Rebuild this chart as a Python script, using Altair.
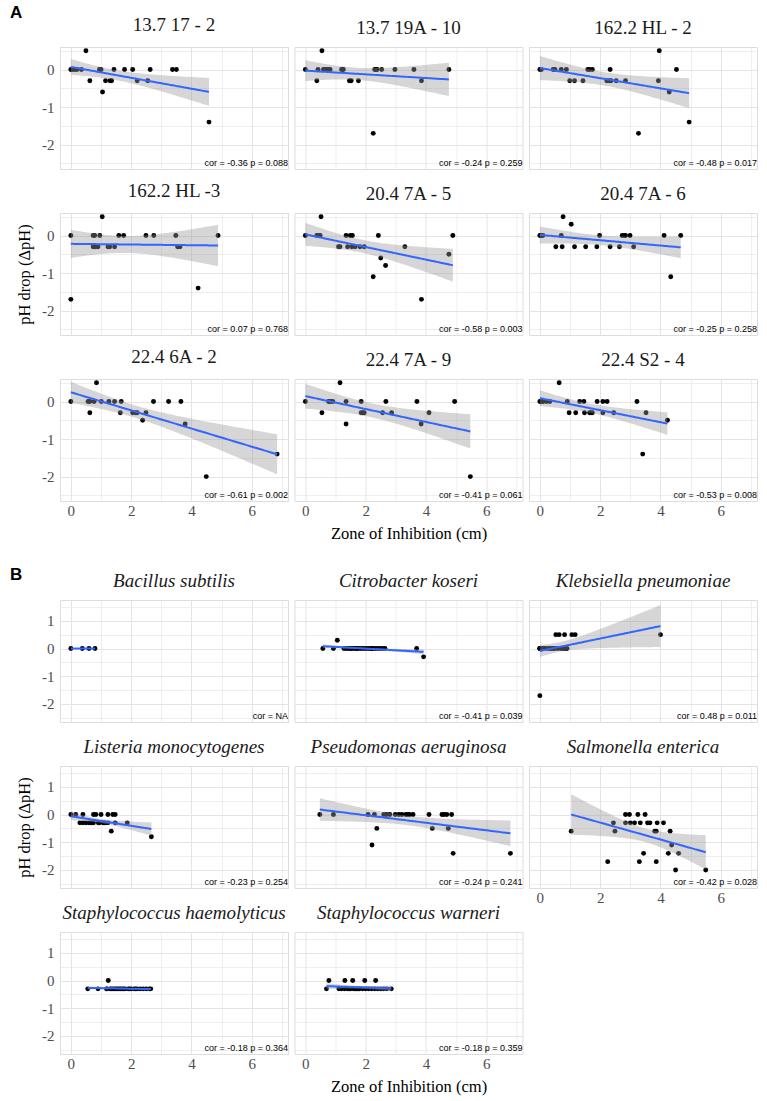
import math
import altair as alt
import numpy as np
import pandas as pd

# ---------------- data ----------------
X_DOMAIN = [-0.36, 7.2]
A_Y_DOMAIN = [-2.65, 0.6]
B_Y_DOMAIN = [-2.65, 1.75]

A_TITLES = ["13.7 17 - 2", "13.7 19A - 10", "162.2 HL - 2",
            "162.2 HL -3", "20.4 7A - 5", "20.4 7A - 6",
            "22.4 6A - 2", "22.4 7A - 9", "22.4 S2 - 4"]
A_NOTES = ["cor = -0.36 p = 0.088", "cor = -0.24 p = 0.259", "cor = -0.48 p = 0.017",
           "cor = 0.07 p = 0.768", "cor = -0.58 p = 0.003", "cor = -0.25 p = 0.258",
           "cor = -0.61 p = 0.002", "cor = -0.41 p = 0.061", "cor = -0.53 p = 0.008"]

a1_x = [0, 0.05, 0.13, 0.2, 0.35, 0.5, 0.63, 0.95, 0.97, 1.0, 1.05, 1.15, 1.3, 1.35, 1.43, 1.78, 2.05, 2.2, 2.55, 2.63, 3.37, 3.5, 4.58]
a1_y = [0, 0, 0, 0, 0, 0.5, -0.3, 0, 0, 0, -0.6, -0.3, -0.3, -0.3, 0, 0, 0, -0.3, -0.3, 0, 0, 0, -1.4]

a2_x = [0, 0.38, 0.42, 0.55, 0.6, 0.65, 0.71, 0.75, 0.82, 1.2, 1.23, 1.26, 1.46, 1.52, 1.76, 2.25, 2.3, 2.34, 2.38, 2.53, 2.97, 3.6, 3.85, 4.76]
a2_y = [0, -0.3, 0, 0.5, 0, 0, 0, 0, 0, 0, 0, 0, -0.3, -0.3, -0.3, -1.7, 0, 0, 0, 0, 0, 0, -0.3, 0]

a3_x = [0, 0.05, 0.44, 0.5, 0.71, 0.88, 0.99, 1.15, 1.43, 1.59, 1.65, 1.74, 2.22, 2.3, 2.33, 2.36, 2.53, 2.84, 3.27, 3.93, 3.96, 4.29, 4.53, 4.95]
a3_y = [0, 0, 0, 0, 0, 0, -0.3, -0.3, -0.3, 0, 0, 0, -0.3, -0.3, 0, -0.3, -0.3, -0.3, -1.7, -0.3, 0.5, -0.6, 0, -1.4]

a4_x = [0, 0, 0.74, 0.74, 0.79, 0.82, 0.9, 0.96, 1.04, 1.23, 1.29, 1.45, 1.59, 1.75, 2.49, 2.75, 3.48, 3.54, 3.62, 4.22, 4.88]
a4_y = [0, -1.7, 0, -0.3, 0, -0.3, -0.3, 0, 0.5, -0.3, -0.3, -0.3, 0, 0, 0, 0, 0, -0.3, -0.3, -1.4, 0]

a5_x = [0, 0.38, 0.42, 0.49, 0.52, 1.1, 1.15, 1.35, 1.4, 1.49, 1.54, 1.56, 1.65, 1.81, 1.95, 2.25, 2.42, 2.5, 2.66, 3.3, 3.85, 4.76, 4.89]
a5_y = [0, 0, 0, 0, 0.5, -0.3, -0.3, 0, -0.3, 0, -0.3, 0, -0.3, -0.3, -0.3, -1.1, 0, -0.6, -0.8, -0.3, -1.7, -0.5, 0]

a6_x = [0, 0.05, 0.1, 0.53, 0.71, 0.74, 0.77, 1.04, 1.15, 1.52, 1.89, 1.98, 2.33, 2.64, 2.73, 2.8, 2.84, 2.99, 3.11, 4.12, 4.34, 4.67]
a6_y = [0, 0, 0, -0.3, 0, -0.3, 0.5, 0.3, -0.3, -0.3, -0.3, 0, -0.3, -0.3, 0, 0, 0, 0, -0.3, 0, -1.1, 0]

a7_x = [0, 0.57, 0.63, 0.63, 0.77, 0.85, 1.01, 1.26, 1.45, 1.64, 1.67, 2.05, 2.15, 2.2, 2.38, 2.49, 2.74, 3.24, 3.65, 3.79, 4.49, 6.84]
a7_y = [0, 0, 0, -0.3, 0, 0.5, 0, 0, 0, -0.3, 0, -0.3, -0.3, -0.3, -0.5, -0.3, 0, 0, 0, -0.6, -2.0, -1.4]

a8_x = [0, 0.55, 0.77, 0.8, 0.85, 0.91, 1.15, 1.35, 1.35, 1.85, 1.85, 1.9, 1.95, 2.56, 2.67, 2.86, 3.7, 3.84, 4.1, 4.95, 5.47]
a8_y = [0, -0.3, 0, 0, 0, 0, 0.5, 0, -0.6, 0, -0.3, -0.3, -0.3, -0.3, 0, -0.3, 0, -0.6, -0.3, 0, -2.0]

a9_x = [0, 0.05, 0.11, 0.22, 0.33, 0.64, 0.91, 0.97, 1.19, 1.32, 1.46, 1.48, 1.65, 1.7, 1.74, 1.9, 2.09, 2.09, 2.23, 2.45, 3.22, 3.41, 3.52, 4.23]
a9_y = [0, 0, 0, 0, 0, 0.5, 0, -0.3, -0.3, 0, 0, -0.3, -0.3, -0.3, -0.3, 0, 0, -0.3, 0, -0.3, 0, -1.4, -0.3, -0.5]

B_TITLES = ["Bacillus subtilis", "Citrobacter koseri", "Klebsiella pneumoniae",
            "Listeria monocytogenes", "Pseudomonas aeruginosa", "Salmonella enterica",
            "Staphylococcus haemolyticus", "Staphylococcus warneri"]
B_NOTES = ["cor = NA", "cor = -0.41 p = 0.039", "cor = 0.48 p = 0.011",
           "cor = -0.23 p = 0.254", "cor = -0.24 p = 0.241", "cor = -0.42 p = 0.028",
           "cor = -0.18 p = 0.364", "cor = -0.18 p = 0.359"]

b1_x = [0, 0.38, 0.6, 0.8]
b1_y = [0, 0, 0, 0]

b2_x = [0.58, 0.93, 1.06, 1.28, 1.36, 1.44, 1.5, 1.52, 1.6, 1.68, 1.7, 1.76, 1.84, 1.92, 2.0, 2.08, 2.16, 2.2, 2.24, 2.32, 2.4, 2.48, 2.56, 2.64, 3.69, 3.92]
b2_y = [0, 0, 0.3, 0, 0, 0, 0, 0, 0, 0, 0, 0, 0, 0, 0, 0, 0, 0, 0, 0, 0, 0, 0, 0, 0, -0.3]

b3_x = [0, 0, 0, 0, 0.1, 0.15, 0.2, 0.3, 0.35, 0.4, 0.45, 0.5, 0.6, 0.7, 0.75, 0.8, 0.85, 0.9, 0.53, 0.64, 0.82, 1.06, 1.17, 4.0]
b3_y = [0, 0, 0, -1.7, 0, 0, 0, 0, 0, 0, 0, 0, 0, 0, 0, 0, 0, 0, 0.5, 0.5, 0.5, 0.5, 0.5, 0.5]

b4_x = [0, 0.16, 0.3, 0.4, 0.4, 0.5, 0.6, 0.67, 0.7, 0.75, 0.75, 0.83, 0.91, 0.95, 1.0, 1.07, 1.1, 1.15, 1.23, 1.23, 1.34, 1.39, 1.47, 1.47, 1.87, 2.67]
b4_y = [0, 0, -0.3, 0, -0.3, -0.3, -0.3, -0.3, -0.3, 0, -0.3, 0, -0.3, -0.3, 0, -0.3, -0.3, -0.3, 0, -0.3, -0.6, 0, 0, -0.3, -0.3, -0.8]

b5_x = [0.48, 0.93, 2.08, 2.21, 2.29, 2.37, 2.6, 2.69, 2.8, 2.98, 3.1, 3.2, 3.33, 3.4, 3.46, 3.57, 4.1, 4.21, 4.53, 4.6, 4.69, 4.74, 4.85, 4.9, 6.8]
b5_y = [0, 0, 0, -1.1, 0, -0.5, 0, 0, 0, 0, 0, 0, 0, 0, 0, 0, 0, -0.5, 0, 0, 0, -0.5, 0, -1.4, -1.4]

b6_x = [1.04, 2.25, 2.44, 2.49, 2.84, 2.84, 2.97, 3.0, 3.14, 3.25, 3.3, 3.33, 3.44, 3.49, 3.57, 3.65, 3.81, 3.86, 3.86, 3.89, 4.1, 4.26, 4.32, 4.37, 4.5, 4.6, 5.5]
b6_y = [-0.6, -1.7, -0.3, -0.6, 0, -0.3, 0, -0.3, -0.3, 0, -1.7, -0.3, -1.4, 0, -0.3, -0.3, -0.6, -0.6, -1.7, -0.3, -0.3, -1.4, -0.6, -1.1, -2.0, -1.4, -2.0]

b7_x = [0.56, 0.9, 1.18, 1.2, 1.24, 1.3, 1.35, 1.4, 1.45, 1.5, 1.55, 1.6, 1.65, 1.7, 1.75, 1.8, 1.9, 1.95, 2.0, 2.1, 2.15, 2.2, 2.3, 2.4, 2.5, 2.6, 2.65]
b7_y = [-0.3, -0.3, -0.3, -0.3, 0, -0.3, -0.3, -0.3, -0.3, -0.3, -0.3, -0.3, -0.3, -0.3, -0.3, -0.3, -0.3, -0.3, -0.3, -0.3, -0.3, -0.3, -0.3, -0.3, -0.3, -0.3, -0.3]

b8_x = [0.7, 0.78, 1.11, 1.2, 1.3, 1.31, 1.4, 1.45, 1.5, 1.57, 1.6, 1.65, 1.7, 1.75, 1.8, 1.9, 1.97, 2.0, 2.1, 2.2, 2.3, 2.33, 2.4, 2.5, 2.6, 2.7, 2.85]
b8_y = [-0.3, 0, -0.3, -0.3, -0.3, 0, -0.3, -0.3, -0.3, 0, -0.3, -0.3, -0.3, -0.3, -0.3, -0.3, 0, -0.3, -0.3, -0.3, -0.3, 0, -0.3, -0.3, -0.3, -0.3, -0.3]

A_DATA = [(a1_x, a1_y), (a2_x, a2_y), (a3_x, a3_y), (a4_x, a4_y), (a5_x, a5_y),
          (a6_x, a6_y), (a7_x, a7_y), (a8_x, a8_y), (a9_x, a9_y)]
B_DATA = [(b1_x, b1_y), (b2_x, b2_y), (b3_x, b3_y), (b4_x, b4_y), (b5_x, b5_y),
          (b6_x, b6_y), (b7_x, b7_y), (b8_x, b8_y)]

# ---------------- helpers ----------------
SERIF = "Liberation Serif"
SANS = "Liberation Sans"
PANEL_W = 228
PANEL_H = 122


def t975(df):
    z = 1.959964
    g1 = (z ** 3 + z) / 4
    g2 = (5 * z ** 5 + 16 * z ** 3 + 3 * z) / 96
    g3 = (3 * z ** 7 + 19 * z ** 5 + 17 * z ** 3 - 15 * z) / 384
    return z + g1 / df + g2 / df ** 2 + g3 / df ** 3


def fit_frame(xs, ys):
    x = np.asarray(xs, float)
    y = np.asarray(ys, float)
    n = len(x)
    xm, ym = x.mean(), y.mean()
    sxx = ((x - xm) ** 2).sum()
    b = ((x - xm) * (y - ym)).sum() / sxx
    a = ym - b * xm
    resid = y - (a + b * x)
    s = math.sqrt((resid ** 2).sum() / (n - 2)) if n > 2 else 0.0
    g = np.linspace(x.min(), x.max(), 80)
    f = a + b * g
    se = s * np.sqrt(1.0 / n + (g - xm) ** 2 / sxx)
    t = t975(max(n - 2, 1))
    return pd.DataFrame({"x": g, "fit": f, "lo": f - t * se, "hi": f + t * se})


def make_panel(title, xs, ys, note, ydom, xlabels, ylabels, xtitle, ytitle, italic):
    pts = pd.DataFrame({"x": xs, "y": ys})
    fdf = fit_frame(xs, ys)
    ndf = pd.DataFrame({"x": [X_DOMAIN[1]], "y": [ydom[0]], "t": [note]})

    xscale = alt.Scale(domain=X_DOMAIN, nice=False, zero=False)
    yscale = alt.Scale(domain=ydom, nice=False, zero=False)
    yvals = [v / 2 for v in range(int(math.ceil(ydom[0] * 2)), int(math.floor(ydom[1] * 2)) + 1)]

    common = dict(ticks=False, domain=False, grid=True, gridColor="#E4E4E4",
                  labelFont=SERIF, labelFontSize=15, labelColor="#4D4D4D",
                  labelFlush=False, labelOverlap=False,
                  titleFont=SERIF, titleFontSize=16.5, titleFontWeight="normal",
                  titleColor="black")
    xaxis = alt.Axis(values=list(range(8)), labels=xlabels,
                     labelExpr="datum.value % 2 === 0 ? '' + datum.value : ''",
                     gridWidth={"condition": {"test": "datum.value % 2 === 0", "value": 1.0}, "value": 0.6},
                     labelPadding=2, titlePadding=7, **common)
    yaxis = alt.Axis(values=yvals, labels=ylabels,
                     labelExpr="datum.value % 1 === 0 ? '' + datum.value : ''",
                     gridWidth={"condition": {"test": "datum.value % 1 === 0", "value": 1.0}, "value": 0.6},
                     labelPadding=6, titlePadding=9, **common)

    def X(field):
        return alt.X(f"{field}:Q", scale=xscale, axis=xaxis, title=xtitle)

    def Y(field):
        return alt.Y(f"{field}:Q", scale=yscale, axis=yaxis, title=ytitle)

    points = alt.Chart(pts).mark_circle(size=24, color="black", opacity=1).encode(x=X("x"), y=Y("y"))
    band = alt.Chart(fdf).mark_area(color="#999999", opacity=0.4, clip=True).encode(
        x=X("x"), y=Y("lo"), y2="hi:Q")
    line = alt.Chart(fdf).mark_line(color="#3366FF", strokeWidth=2, clip=True).encode(
        x=X("x"), y=Y("fit"))
    text = alt.Chart(ndf).mark_text(align="right", baseline="bottom", font=SANS,
                                    fontSize=9, color="black", dy=-1).encode(
        x=X("x"), y=Y("y"), text="t:N")

    return alt.layer(points, band, line, text).properties(
        width=PANEL_W, height=PANEL_H,
        title=alt.TitleParams(title, font=SERIF, fontSize=19,
                              fontStyle="italic" if italic else "normal",
                              fontWeight="normal", color="#1A1A1A", offset=9, anchor="middle"))


def make_block(label, titles, data, notes, ydom, xlabel_idx, italic, label_offset):
    panels = []
    for i, (t, (xs, ys), n) in enumerate(zip(titles, data, notes)):
        panels.append(make_panel(
            t, xs, ys, n, ydom,
            xlabels=i in xlabel_idx,
            ylabels=(i % 3 == 0),
            xtitle="Zone of Inhibition (cm)" if i == 7 else None,
            ytitle="pH drop (ΔpH)" if i == 3 else None,
            italic=italic))
    return alt.concat(*panels, columns=3, spacing={"row": 44, "column": 6.5},
                      bounds="flush",
                      title=alt.TitleParams(label, anchor="start", font=SANS, fontSize=17,
                                            fontWeight="bold", color="black",
                                            offset=label_offset, dx=-6))


block_a = make_block("A", A_TITLES, A_DATA, A_NOTES, A_Y_DOMAIN, {6, 7, 8}, False, -7)
block_b = make_block("B", B_TITLES, B_DATA, B_NOTES, B_Y_DOMAIN, {5, 6, 7}, True, -13)

chart = alt.vconcat(block_a, block_b, spacing=24).properties(
    padding={"left": 10, "top": 4, "right": 2, "bottom": 2}
).configure_view(stroke=None).configure(background="white")

chart.save("out.html", embed_options={"renderer": "svg", "actions": False})
